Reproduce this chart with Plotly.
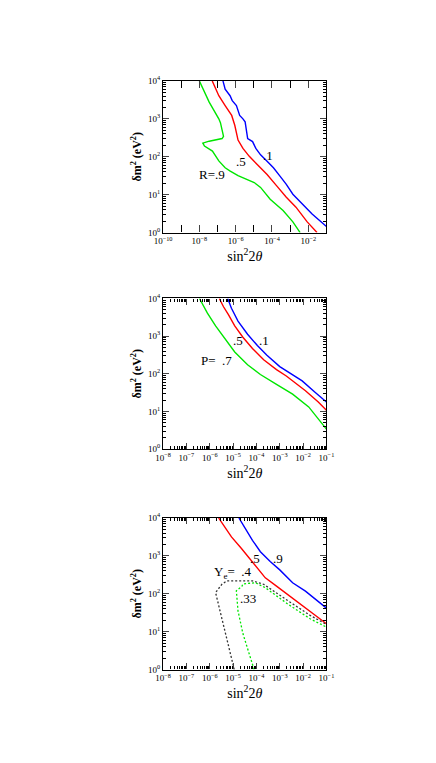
import numpy as np
import plotly.graph_objects as go

# curve points, stored as log10(sin^2 2theta), log10(dm^2)
r9_x = [-8.0, -7.46, -6.93, -6.84, -6.67, -6.75, -7.46, -7.81, -7.72, -7.28, -6.93, -6.58, -6.30, -5.87, -4.98, -4.63, -4.10, -3.39, -2.85, -2.45]
r9_y = [4.0, 3.44, 3.0, 2.90, 2.54, 2.48, 2.41, 2.36, 2.28, 2.15, 1.89, 1.71, 1.62, 1.50, 1.32, 1.19, 0.88, 0.58, 0.28, 0.0]
r5_x = [-7.29, -6.93, -6.58, -6.22, -6.05, -5.87, -5.60, -5.25, -4.80, -4.27, -3.74, -3.21, -2.68, -2.06, -1.52]
r5_y = [4.0, 3.61, 3.35, 3.09, 2.83, 2.44, 2.22, 2.01, 1.79, 1.53, 1.23, 0.93, 0.67, 0.28, 0.0]
r1_x = [-6.70, -6.58, -6.31, -6.19, -5.96, -5.78, -5.60, -5.48, -5.34, -5.07, -4.89, -4.63, -4.27, -3.92, -3.56, -3.21, -2.85, -2.32, -1.79, -1.0]
r1_y = [4.0, 3.78, 3.61, 3.48, 3.35, 3.09, 3.0, 2.92, 2.48, 2.40, 2.22, 2.05, 1.88, 1.71, 1.49, 1.27, 1.01, 0.75, 0.49, 0.16]

p7_x = [-6.44, -6.10, -5.75, -5.34, -4.93, -4.38, -3.83, -3.14, -2.45, -1.76, -1.0]
p7_y = [4.0, 3.61, 3.27, 2.92, 2.58, 2.24, 1.98, 1.72, 1.46, 1.12, 0.53]
p5_x = [-5.59, -5.41, -5.20, -4.93, -4.58, -4.17, -3.69, -3.14, -2.72, -2.45, -1.90, -1.35, -1.0]
p5_y = [4.0, 3.78, 3.57, 3.27, 2.97, 2.67, 2.37, 2.11, 1.94, 1.81, 1.55, 1.25, 1.03]
p1_x = [-5.23, -5.07, -4.79, -4.38, -3.96, -3.55, -3.0, -2.59, -2.04, -1.49, -1.0]
p1_y = [4.0, 3.74, 3.40, 3.05, 2.75, 2.49, 2.19, 2.02, 1.81, 1.51, 1.25]

y9_x = [-4.75, -4.52, -4.17, -3.83, -3.41, -3.0, -2.45, -1.90, -1.35, -1.0]
y9_y = [4.0, 3.76, 3.41, 3.11, 2.85, 2.63, 2.29, 2.07, 1.81, 1.62]
y5_x = [-5.62, -5.34, -5.07, -4.65, -4.24, -3.90, -3.62, -3.14, -2.59, -2.04, -1.49, -1.0]
y5_y = [4.0, 3.76, 3.50, 3.20, 2.89, 2.63, 2.42, 2.20, 1.94, 1.68, 1.43, 1.21]
y4_x = [-4.95, -5.34, -5.61, -5.75, -5.48, -5.27, -4.17, -3.69, -2.66, -1.70, -1.0]
y4_y = [0.0, 0.96, 1.65, 2.03, 2.25, 2.34, 2.34, 2.25, 1.82, 1.43, 1.19]
y33_x = [-4.10, -4.58, -4.79, -4.86, -4.62, -4.58, -4.04, -3.62, -2.66, -1.70, -1.0]
y33_y = [0.0, 0.95, 1.55, 2.08, 2.20, 2.26, 2.29, 2.16, 1.73, 1.34, 1.12]

BLUE, RED, GREEN, GREY = "#0000ff", "#ff0000", "#00e600", "#333333"
FONT = "Liberation Serif"

W, H = 436, 763
xdom = [152 / W, 322 / W]
ydoms = [[1 - 221 / H, 1 - 67 / H], [1 - 441 / H, 1 - 288 / H], [1 - 665 / H, 1 - 511 / H]]

fig = go.Figure()

panels = [
    [(r9_x, r9_y, GREEN, "solid"), (r5_x, r5_y, RED, "solid"), (r1_x, r1_y, BLUE, "solid")],
    [(p7_x, p7_y, GREEN, "solid"), (p5_x, p5_y, RED, "solid"), (p1_x, p1_y, BLUE, "solid")],
    [(y9_x, y9_y, BLUE, "solid"), (y5_x, y5_y, RED, "solid"),
     (y4_x, y4_y, GREY, "2px,2px"), (y33_x, y33_y, GREEN, "2px,2px")],
]

for i, curves in enumerate(panels):
    n = "" if i == 0 else str(i + 1)
    for cx, cy, col, dash in curves:
        fig.add_trace(go.Scatter(x=10 ** np.array(cx), y=10 ** np.array(cy), mode="lines",
                                 line=dict(color=col, width=1.4 if dash == "solid" else 1.3, dash=dash),
                                 xaxis="x" + n, yaxis="y" + n, showlegend=False))


def sup(k):
    return "10<sup>%s</sup>" % (str(k).replace("-", "\u2212"))


def minor_vals(lo, hi):
    return [m * 10.0 ** k for k in range(lo, hi) for m in range(2, 10)]


for i in range(3):
    n = "" if i == 0 else str(i + 1)
    if i == 0:
        xlo, xhi = -10, -1
        xt = list(range(-10, 0, 2))
        xminor = dict(ticks="inside", ticklen=7, tickvals=[10.0 ** k for k in range(-9, 0, 2)], tickcolor="black")
        xlen = 7
    else:
        xlo, xhi = -8, -1
        xt = list(range(-8, 0))
        xminor = dict(ticks="inside", ticklen=3, tickvals=minor_vals(-8, -1), tickcolor="black")
        xlen = 6
    fig.update_layout(**{
        "xaxis" + n: dict(type="log", range=[xlo, xhi], domain=xdom, anchor="y" + n,
                          tickvals=[10.0 ** k for k in xt], ticktext=[sup(k) for k in xt],
                          ticks="inside", ticklen=xlen, minor=xminor, mirror="allticks",
                          showline=True, linecolor="black", linewidth=1.2, showgrid=False,
                          tickfont=dict(family=FONT, size=9, color="black"),
                          title=dict(text="sin<sup>2</sup>2<i>θ</i>", standoff=1,
                                     font=dict(family=FONT, size=14, color="black"))),
        "yaxis" + n: dict(type="log", range=[0, 4], domain=ydoms[i], anchor="x" + n,
                          tickvals=[10.0 ** k for k in range(5)], ticktext=[sup(k) for k in range(5)],
                          ticks="inside", ticklen=6,
                          minor=dict(ticks="inside", ticklen=3, tickvals=minor_vals(0, 4), tickcolor="black"),
                          mirror="allticks", showline=True, linecolor="black", linewidth=1.2, showgrid=False,
                          tickfont=dict(family=FONT, size=9, color="black"),
                          title=dict(text="<b>δm<sup>2</sup> (eV<sup>2</sup>)</b>", standoff=3,
                                     font=dict(family=FONT, size=12, color="black"))),
    })

labels = [
    ("", -7.30, 1.53, "R=.9"), ("", -5.71, 1.87, ".5"), ("", -4.23, 2.03, ".1"),
    ("2", -5.69, 2.35, "P=  .7"), ("2", -4.79, 2.88, ".5"), ("2", -3.68, 2.88, ".1"),
    ("3", -4.99, 2.56, "Y<sub>e</sub>=  .4"), ("3", -4.05, 2.94, ".5"), ("3", -3.06, 2.94, ".9"),
    ("3", -4.38, 1.87, ".33"),
]
for n, ax, ay, txt in labels:
    fig.add_annotation(x=ax, y=ay, xref="x" + n, yref="y" + n, text=txt, showarrow=False,
                       font=dict(family=FONT, size=13, color="black"))

fig.update_layout(width=W, height=H, margin=dict(l=0, r=0, t=0, b=0),
                  paper_bgcolor="white", plot_bgcolor="white")

fig.write_html("out.html")
